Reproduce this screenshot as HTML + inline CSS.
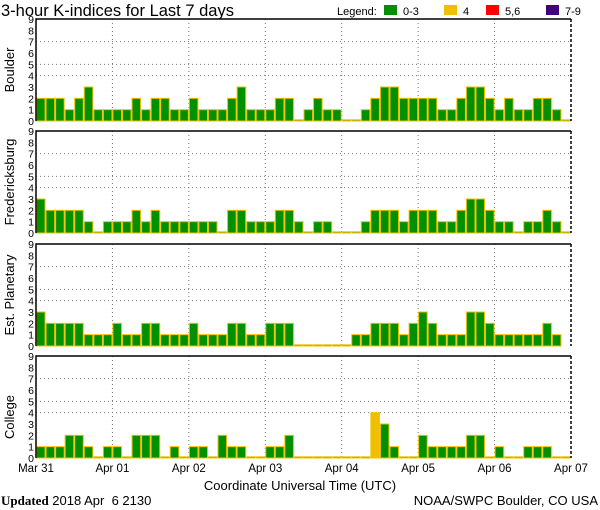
<!DOCTYPE html>
<html><head><meta charset="utf-8"><style>
html,body{margin:0;padding:0;background:#fff;}
svg{display:block;font-family:"Liberation Sans",sans-serif;}
</style></head><body>
<svg id="chart" width="600" height="510" viewBox="0 0 600 510">
<text x="1" y="16" font-size="16.5" fill="#000">3-hour K-indices for Last 7 days</text>
<g font-size="11">
<text x="337" y="15">Legend:</text>
<rect x="384" y="5" width="13" height="10" fill="#009000"/>
<text x="403" y="15">0-3</text>
<rect x="444" y="5" width="13" height="10" fill="#f0c000"/>
<text x="463" y="15">4</text>
<rect x="486" y="5" width="13" height="10" fill="#ff0000"/>
<text x="505" y="15">5,6</text>
<rect x="546" y="5" width="13" height="10" fill="#400080"/>
<text x="565" y="15">7-9</text>
</g>
<g id="panels"></g>
<text x="300" y="490" font-size="13" text-anchor="middle">Coordinate Universal Time (UTC)</text>
<text x="1" y="505" font-size="13" xml:space="preserve"><tspan font-family="Liberation Serif,serif" font-weight="bold">Updated</tspan> 2018 Apr  6 2130</text>
<text x="598" y="505" font-size="13" text-anchor="end">NOAA/SWPC Boulder, CO USA</text>
</svg>
<script>
const stations = ["Boulder","Fredericksburg","Est. Planetary","College"];
const boulder = [2,2,2,1,2,3,1,1,1,1,2,1,2,2,1,1,2,1,1,1,2,3,1,1,1,2,2,0,1,2,1,1,0,0,1,2,3,3,2,2,2,2,1,1,2,3,3,2,1,2,1,1,2,2,1,0];
const fredericksburg = [3,2,2,2,2,1,0,1,1,1,2,1,2,1,1,1,1,1,1,0,2,2,1,1,1,2,2,1,0,1,1,0,0,0,1,2,2,2,1,2,2,2,1,1,2,3,3,2,1,1,0,1,1,2,1,0];
const planetary = [3,2,2,2,2,1,1,1,2,1,1,2,2,1,1,1,2,1,1,1,2,2,1,1,2,2,2,0,0,0,0,0,0,1,1,2,2,2,1,2,3,2,1,1,1,3,3,2,1,1,1,1,1,2,1,null];
const college = [1,1,1,2,2,1,0,1,1,0,2,2,2,0,1,0,1,1,0,2,1,1,0,0,1,1,2,0,0,0,0,0,0,0,0,4,3,1,0,0,2,1,1,1,1,2,2,0,1,0,0,1,1,1,0,0];
const dayLabels = ["Mar 31","Apr 01","Apr 02","Apr 03","Apr 04","Apr 05","Apr 06","Apr 07"];
const yTicks = [0,1,2,3,4,5,6,7,8,9];
const gridLevels = [4,5,7];

const series = [boulder, fredericksburg, planetary, college];
const NS = "http://www.w3.org/2000/svg";
const X0 = 36, X1 = 571, NB = 56;
const tops = [19,131,244,356], PH = 102;
const g = document.getElementById("panels");
function mk(tag, attrs, parent){const e=document.createElementNS(NS,tag);for(const k in attrs)e.setAttribute(k,attrs[k]);parent.appendChild(e);return e;}
const xScale = i => X0 + (X1-X0)*i/NB;
function colorFor(v){return v>=7?"#400080":v>=5?"#ff0000":v===4?"#f0c000":"#009000";}

stations.forEach((name, p) => {
  const top = tops[p], bot = top + PH;
  const yScale = v => bot - PH*v/9;
  const pg = mk("g", {}, g);
  
  
  gridLevels.forEach(v => {
    const l = mk("line", {x1:X0,x2:X1,y1:yScale(v),y2:yScale(v),stroke:"#777","stroke-width":1,"stroke-dasharray":"1 3"}, pg);
    
    
  });
  for (let d=1; d<7; d++){
    const x = xScale(d*8);
    const l = mk("line", {x1:x,x2:x,y1:top,y2:bot,stroke:"#777","stroke-width":1,"stroke-dasharray":"1 3"}, pg);
    
    
  }
  series[p].forEach((v, i) => {
    if (v === null) return;
    const x = xScale(i), w = xScale(i+1) - x;
    const h = Math.max(1.2, PH*v/9);
    const c = colorFor(v);
    const r = mk("rect", {x:x+0.5, y:bot-h, width:w-1, height:h, fill:c, stroke:"#f0c000", "stroke-width":1}, pg);
    
    
  });
  const f1 = mk("path", {d:`M${X0} ${bot} V${top} H${X1}`, fill:"none", stroke:"#000","stroke-width":1.5}, pg);
  
  
  const f2 = mk("line", {x1:X1,x2:X1,y1:top,y2:bot,stroke:"#000","stroke-width":1.5,"stroke-dasharray":"3 2"}, pg);
  
  
  yTicks.forEach(v => {
    const t = mk("text", {x:34, y:yScale(v)+4, "font-size":10.5, "text-anchor":"end"}, pg);
    t.textContent = v;
    
    
  });
  const cy = top + PH/2 + (p===3 ? 10 : 0);
  const lab = mk("text", {x:0, y:0, "font-size":13, "text-anchor":"middle", transform:`translate(14 ${cy}) rotate(-90)`}, pg);
  lab.textContent = name;
  
  
});
dayLabels.forEach((lbl, d) => {
  const t = mk("text", {x:xScale(d*8), y:472, "font-size":11.5, "text-anchor":"middle"}, g);
  t.textContent = lbl;
  
  
});
</script>
</body></html>
